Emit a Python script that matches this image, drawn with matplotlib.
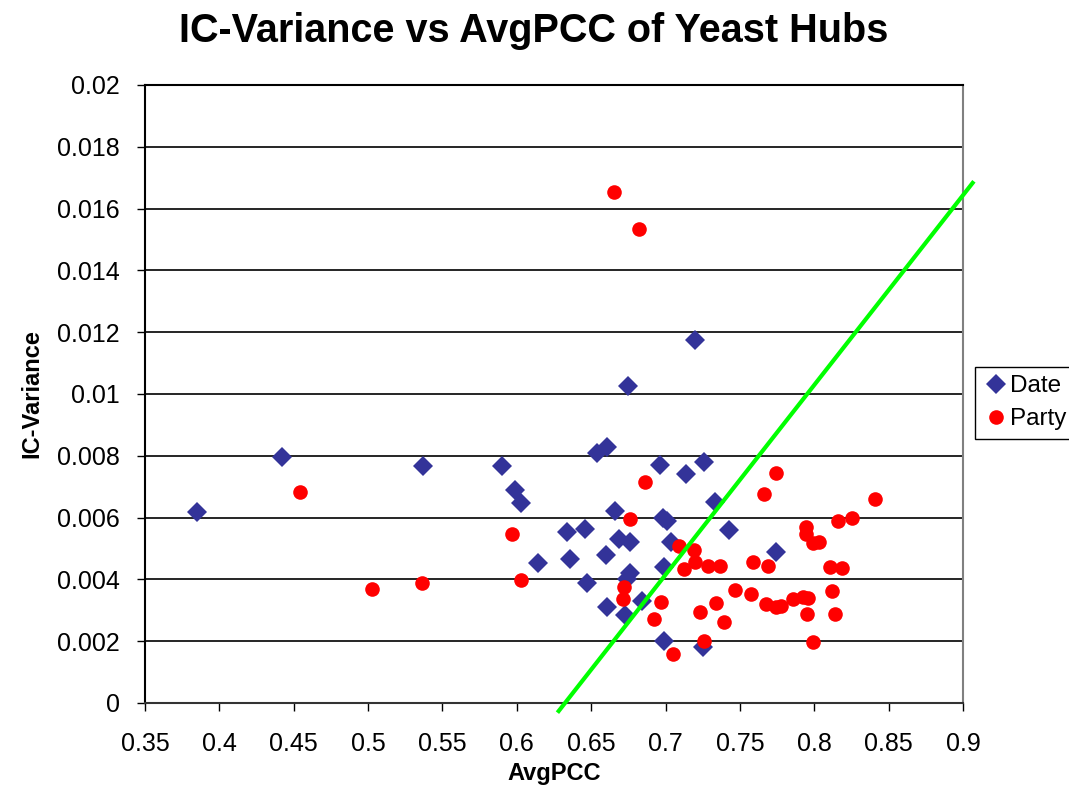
import matplotlib
matplotlib.use("Agg")
import matplotlib.pyplot as plt

plt.rcParams['font.family'] = ['Liberation Sans', 'DejaVu Sans']

# Date hubs
date_x = [0.385, 0.442, 0.537, 0.590, 0.599, 0.603, 0.614, 0.634, 0.636, 0.646,
          0.647, 0.654, 0.661, 0.660, 0.661, 0.666, 0.669, 0.673, 0.674, 0.675,
          0.676, 0.676, 0.684, 0.696, 0.698, 0.701, 0.699, 0.699, 0.704, 0.714,
          0.720, 0.726, 0.725, 0.733, 0.743, 0.774]
date_y = [0.00618, 0.00796, 0.00767, 0.00767, 0.0069, 0.00647, 0.00453, 0.00553, 0.00466, 0.00563,
          0.00388, 0.0081, 0.0083, 0.0048, 0.0031, 0.0062, 0.0053, 0.00285, 0.0040, 0.01026,
          0.0052, 0.0042, 0.0033, 0.0077, 0.0060, 0.0059, 0.0044, 0.0020, 0.0052, 0.0074,
          0.01175, 0.0078, 0.0018, 0.0065, 0.0056, 0.0049]

# Party hubs
party_x = [0.454, 0.5025, 0.536, 0.5966, 0.6028, 0.6654, 0.6824, 0.6862, 0.6761, 0.7093,
           0.7193, 0.7198, 0.7124, 0.7288, 0.7366, 0.759, 0.769, 0.7665, 0.7743, 0.6723,
           0.6716, 0.6967, 0.6922, 0.7232, 0.734, 0.7393, 0.7259, 0.7052, 0.7467, 0.7575,
           0.7676, 0.7743, 0.7777, 0.8409, 0.8162, 0.8256, 0.7944, 0.7944, 0.7994, 0.8032,
           0.8106, 0.8184, 0.786, 0.7926, 0.796, 0.8121, 0.7953, 0.814, 0.7994]
party_y = [0.00684, 0.00368, 0.00389, 0.00546, 0.00398, 0.01655, 0.01533, 0.00714, 0.00594, 0.00508,
           0.00495, 0.00457, 0.00433, 0.00444, 0.00444, 0.00457, 0.00444, 0.00676, 0.00745, 0.00376,
           0.00336, 0.00326, 0.00271, 0.00296, 0.00323, 0.00263, 0.00202, 0.00158, 0.00366, 0.00353,
           0.0032, 0.0031, 0.00315, 0.00659, 0.00589, 0.00598, 0.00569, 0.00547, 0.00517, 0.0052,
           0.00441, 0.00436, 0.00336, 0.00342, 0.0034, 0.00362, 0.00288, 0.00288, 0.00196]

# dividing line
line_x = [0.6282, 0.9065]
line_y = [-0.00026, 0.01683]

x_ticks = [0.35, 0.4, 0.45, 0.5, 0.55, 0.6, 0.65, 0.7, 0.75, 0.8, 0.85, 0.9]
x_labels = ['0.35', '0.4', '0.45', '0.5', '0.55', '0.6', '0.65', '0.7', '0.75', '0.8', '0.85', '0.9']
y_ticks = [0, 0.002, 0.004, 0.006, 0.008, 0.01, 0.012, 0.014, 0.016, 0.018, 0.02]
y_labels = ['0', '0.002', '0.004', '0.006', '0.008', '0.01', '0.012', '0.014', '0.016', '0.018', '0.02']

fig = plt.figure(figsize=(10.69, 7.92), dpi=100)
ax = fig.add_axes([0.1356, 0.1124, 0.7652, 0.7803])

for yv in y_ticks[1:]:
    ax.axhline(yv, color='black', lw=1.2, zorder=1)

ax.plot(date_x, date_y, 'D', color='#333399', ms=10, mew=0, label='Date', zorder=3)
ax.plot(party_x, party_y, 'o', color='#ff0000', ms=10.5, mew=0, label='Party', zorder=3)
ax.plot(line_x, line_y, color='#00ff00', lw=3, clip_on=False, zorder=4)

ax.set_xlim(0.35, 0.9)
ax.set_ylim(0, 0.02)
ax.set_xticks(x_ticks)
ax.set_xticklabels(x_labels)
ax.set_yticks(y_ticks)
ax.set_yticklabels(y_labels)
ax.tick_params(labelsize=18, length=6, width=1, direction='out')
ax.tick_params(axis='x', pad=15)
ax.tick_params(axis='y', pad=12)

ax.spines['left'].set_color('black')
ax.spines['bottom'].set_color('#333333')
ax.spines['right'].set_color('#808080')
ax.spines['top'].set_color('black')
for s in ax.spines.values():
    s.set_linewidth(1.5)

ax.set_xlabel('AvgPCC', fontsize=17, fontweight='bold', labelpad=4)
ax.set_ylabel('IC-Variance', fontsize=17, fontweight='bold', labelpad=10)
fig.suptitle('IC-Variance vs AvgPCC of Yeast Hubs', fontsize=28.5, fontweight='bold', x=0.499, y=0.985)

fig.legend(loc='upper left', bbox_to_anchor=(0.912, 0.537), fontsize=17.5, frameon=True,
           fancybox=False, edgecolor='black', framealpha=1, borderaxespad=0,
           handletextpad=0.1, handlelength=1.0, borderpad=0.35, labelspacing=0.45)

fig.savefig('out.png', dpi=100)
